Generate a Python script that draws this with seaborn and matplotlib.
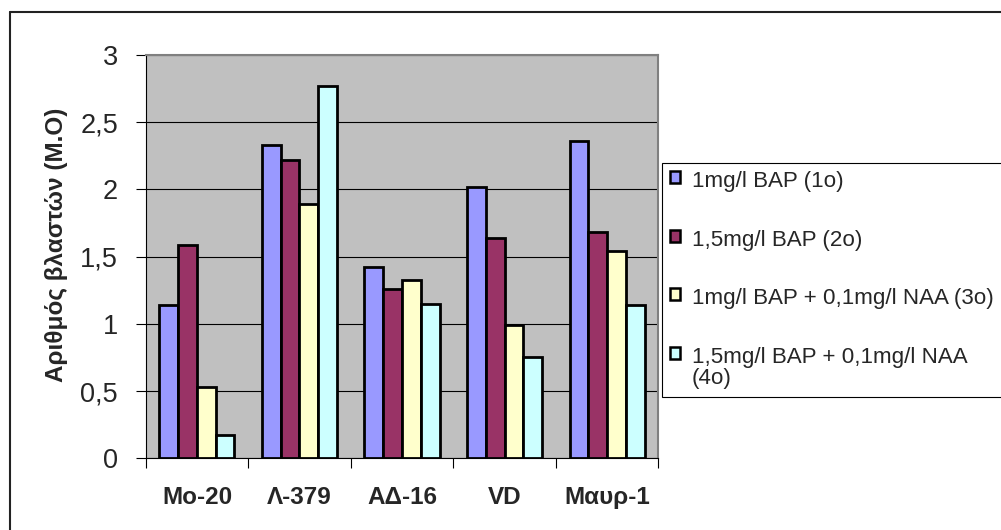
import matplotlib
matplotlib.use("Agg")
import matplotlib.pyplot as plt
from matplotlib.lines import Line2D
import seaborn as sns
import pandas as pd
import numpy as np

categories = ["Mo-20", "Λ-379", "ΑΔ-16", "VD", "Μαυρ-1"]
series_names = ["1mg/l BAP (1o)", "1,5mg/l BAP (2o)",
                "1mg/l BAP + 0,1mg/l NAA (3o)", "1,5mg/l BAP + 0,1mg/l NAA\n(4o)"]
s1 = [1.14, 2.33, 1.42, 2.02, 2.36]
s2 = [1.59, 2.22, 1.26, 1.64, 1.68]
s3 = [0.53, 1.89, 1.33, 0.99, 1.54]
s4 = [0.17, 2.77, 1.15, 0.75, 1.14]
colors = ["#9999FF", "#993366", "#FFFFCC", "#CCFFFF"]
yticks = [0, 0.5, 1, 1.5, 2, 2.5, 3]
ytick_labels = ["0", "0,5", "1", "1,5", "2", "2,5", "3"]
ylabel = "Αριθμός βλαστών (Μ.Ο)"

rows = []
for name, vals in zip(series_names, [s1, s2, s3, s4]):
    for c, v in zip(categories, vals):
        rows.append({"cat": c, "series": name, "value": v})
df = pd.DataFrame(rows)

sns.set_theme(style="white")
plt.rcParams["font.family"] = ["Liberation Sans", "DejaVu Sans"]

W, H = 1001, 530
fig = plt.figure(figsize=(W / 100, H / 100), dpi=100)
fig.patch.set_facecolor("white")
ax = fig.add_axes([145.7 / W, 1 - 458.3 / H, 512.6 / W, 403.3 / H])
ax.set_facecolor("#C0C0C0")

sns.barplot(data=df, x="cat", y="value", hue="series", order=categories,
            hue_order=series_names, palette=colors, width=0.732,
            edgecolor="black", linewidth=2, saturation=1, ax=ax, zorder=3)

ax.set_ylim(0, 3)
ax.set_xlim(-0.5, len(categories) - 0.5)
ax.set_yticks(yticks)
ax.set_yticklabels(ytick_labels, fontsize=19.5)
ax.yaxis.grid(True, color="black", linewidth=0.8, zorder=0)
ax.set_axisbelow(True)
ax.tick_params(axis="y", which="major", length=7, width=0.8, color="black",
               pad=13, left=True, direction="out")

ax.set_xticks(range(len(categories)))
ax.set_xticklabels(categories, fontsize=17.5, fontweight="bold")
ax.set_xticks(np.arange(-0.5, len(categories)), minor=True)
ax.tick_params(axis="x", which="major", length=0, pad=20)
ax.tick_params(axis="x", which="minor", length=7, width=0.8, color="black",
               bottom=True, direction="out")
ax.set_xlabel("")
ax.set_ylabel(ylabel, fontsize=17.5, fontweight="bold")
ax.yaxis.set_label_coords(-0.152, 0.529)

for side in ["left", "bottom"]:
    ax.spines[side].set_color("black")
    ax.spines[side].set_linewidth(0.8)
for side in ["top", "right"]:
    ax.spines[side].set_color("#808080")
    ax.spines[side].set_linewidth(1.5)

handles, labels = ax.get_legend_handles_labels()
ax.get_legend().remove()
leg = fig.legend(handles, labels, loc="upper left",
                 bbox_to_anchor=(662 / W, 1 - 163 / H),
                 bbox_transform=fig.transFigure, borderaxespad=0,
                 fontsize=16.1, frameon=True, fancybox=False, shadow=False,
                 framealpha=1, edgecolor="black", borderpad=0.36,
                 handlelength=0.45, handleheight=0.45, handletextpad=0.53,
                 labelspacing=1.68)
leg.get_frame().set_linewidth(0.8)
for t in leg.get_texts():
    t.set_linespacing(1.0)
for col in leg._legend_handle_box.get_children():
    for hp in col.get_children():
        hp.align = "top"
for p in leg.get_patches():
    p.set_edgecolor("black")
    p.set_linewidth(1.8)

fig.add_artist(Line2D([10 / W, 1.0], [1 - 12 / H, 1 - 12 / H],
                      transform=fig.transFigure, color="#222222", linewidth=1.5))
fig.add_artist(Line2D([10 / W, 10 / W], [0, 1 - 12 / H],
                      transform=fig.transFigure, color="#222222", linewidth=1.5))

fig.savefig("out.png", dpi=100, facecolor="white")
